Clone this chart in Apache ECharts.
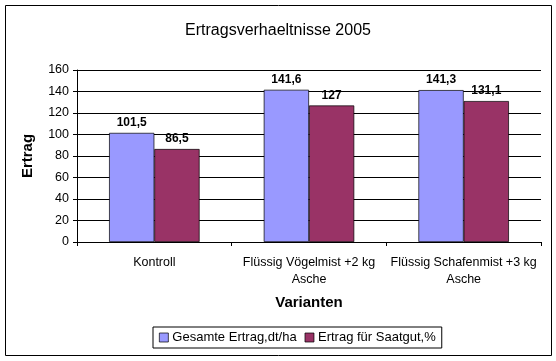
<!DOCTYPE html>
<html><head><meta charset="utf-8">
<script src="https://cdn.jsdelivr.net/npm/echarts@6/dist/echarts.min.js"></script>
<style>html,body{margin:0;padding:0;background:#fff;}#c{width:556px;height:361px;}</style>
</head><body><div id="c"></div>
<script>
const categories = ['Kontroll', 'Flüssig Vögelmist +2 kg\nAsche', 'Flüssig Schafenmist +3 kg\nAsche'];
const seriesNames = ['Gesamte Ertrag,dt/ha', 'Ertrag für Saatgut,%'];
const gesamteErtrag = [101.5, 141.6, 141.3];
const ertragSaatgut = [86.5, 127, 131.1];
const yTicks = [0, 20, 40, 60, 80, 100, 120, 140, 160];

const chart = echarts.init(document.getElementById('c'), null, {renderer: 'canvas'});
const font = 'Liberation Sans, Arial, sans-serif';
const lbl = {show: true, position: 'top', fontFamily: font, fontSize: 12, fontWeight: 'bold', color: '#000', distance: 4,
  formatter: p => String(p.value).replace('.', ',')};
chart.setOption({
  animation: false,
  backgroundColor: '#fff',
  graphic: [{type: 'rect', shape: {x: 5.5, y: 5.5, width: 546, height: 350}, style: {fill: 'none', stroke: '#000', lineWidth: 1}, z: -1}],
  title: {text: 'Ertragsverhaeltnisse 2005', left: 'center', top: 18,
    textStyle: {fontFamily: font, fontSize: 16, fontWeight: 'normal', color: '#000'}},
  legend: {top: 327, left: 153, itemWidth: 9, itemHeight: 9, itemGap: 8,
    padding: [4, 6, 4, 6], borderColor: '#000', borderWidth: 1,
    textStyle: {fontFamily: font, fontSize: 13, color: '#000', padding: [0, 0, 0, -1]},
    data: seriesNames.map(n => ({name: n, icon: 'rect', itemStyle: {borderColor: '#000', borderWidth: 0.7}}))},
  grid: {left: 77, right: 15, top: 70, bottom: 119, containLabel: false},
  xAxis: {type: 'category', data: categories, name: 'Varianten', nameLocation: 'middle', nameGap: 53,
    nameTextStyle: {fontFamily: font, fontSize: 15, fontWeight: 'bold', color: '#000'},
    axisLine: {lineStyle: {color: '#000'}}, axisTick: {show: true, lineStyle: {color: '#000'}, length: 4},
    axisLabel: {fontFamily: font, fontSize: 12.5, color: '#000', interval: 0, lineHeight: 17, margin: 12}},
  yAxis: {type: 'value', min: 0, max: 160, interval: 20, name: 'Ertrag', nameLocation: 'middle', nameGap: 42,
    nameTextStyle: {fontFamily: font, fontSize: 15, fontWeight: 'bold', color: '#000'},
    axisLine: {show: true, lineStyle: {color: '#000'}}, axisTick: {show: true, length: 4, inside: false, lineStyle: {color: '#000'}},
    axisLabel: {fontFamily: font, fontSize: 12.5, color: '#000', margin: 8,
      formatter: v => yTicks.includes(v) ? String(v) : ''},
    splitLine: {lineStyle: {color: '#000', width: 1}}},
  series: [
    {name: seriesNames[0], type: 'bar', data: gesamteErtrag, barGap: '0%', barCategoryGap: '41.5%',
     itemStyle: {color: '#9999FF', borderColor: '#000', borderWidth: 0.7}, label: lbl},
    {name: seriesNames[1], type: 'bar', data: ertragSaatgut,
     itemStyle: {color: '#993366', borderColor: '#000', borderWidth: 0.7}, label: lbl}
  ]
});
</script></body></html>
